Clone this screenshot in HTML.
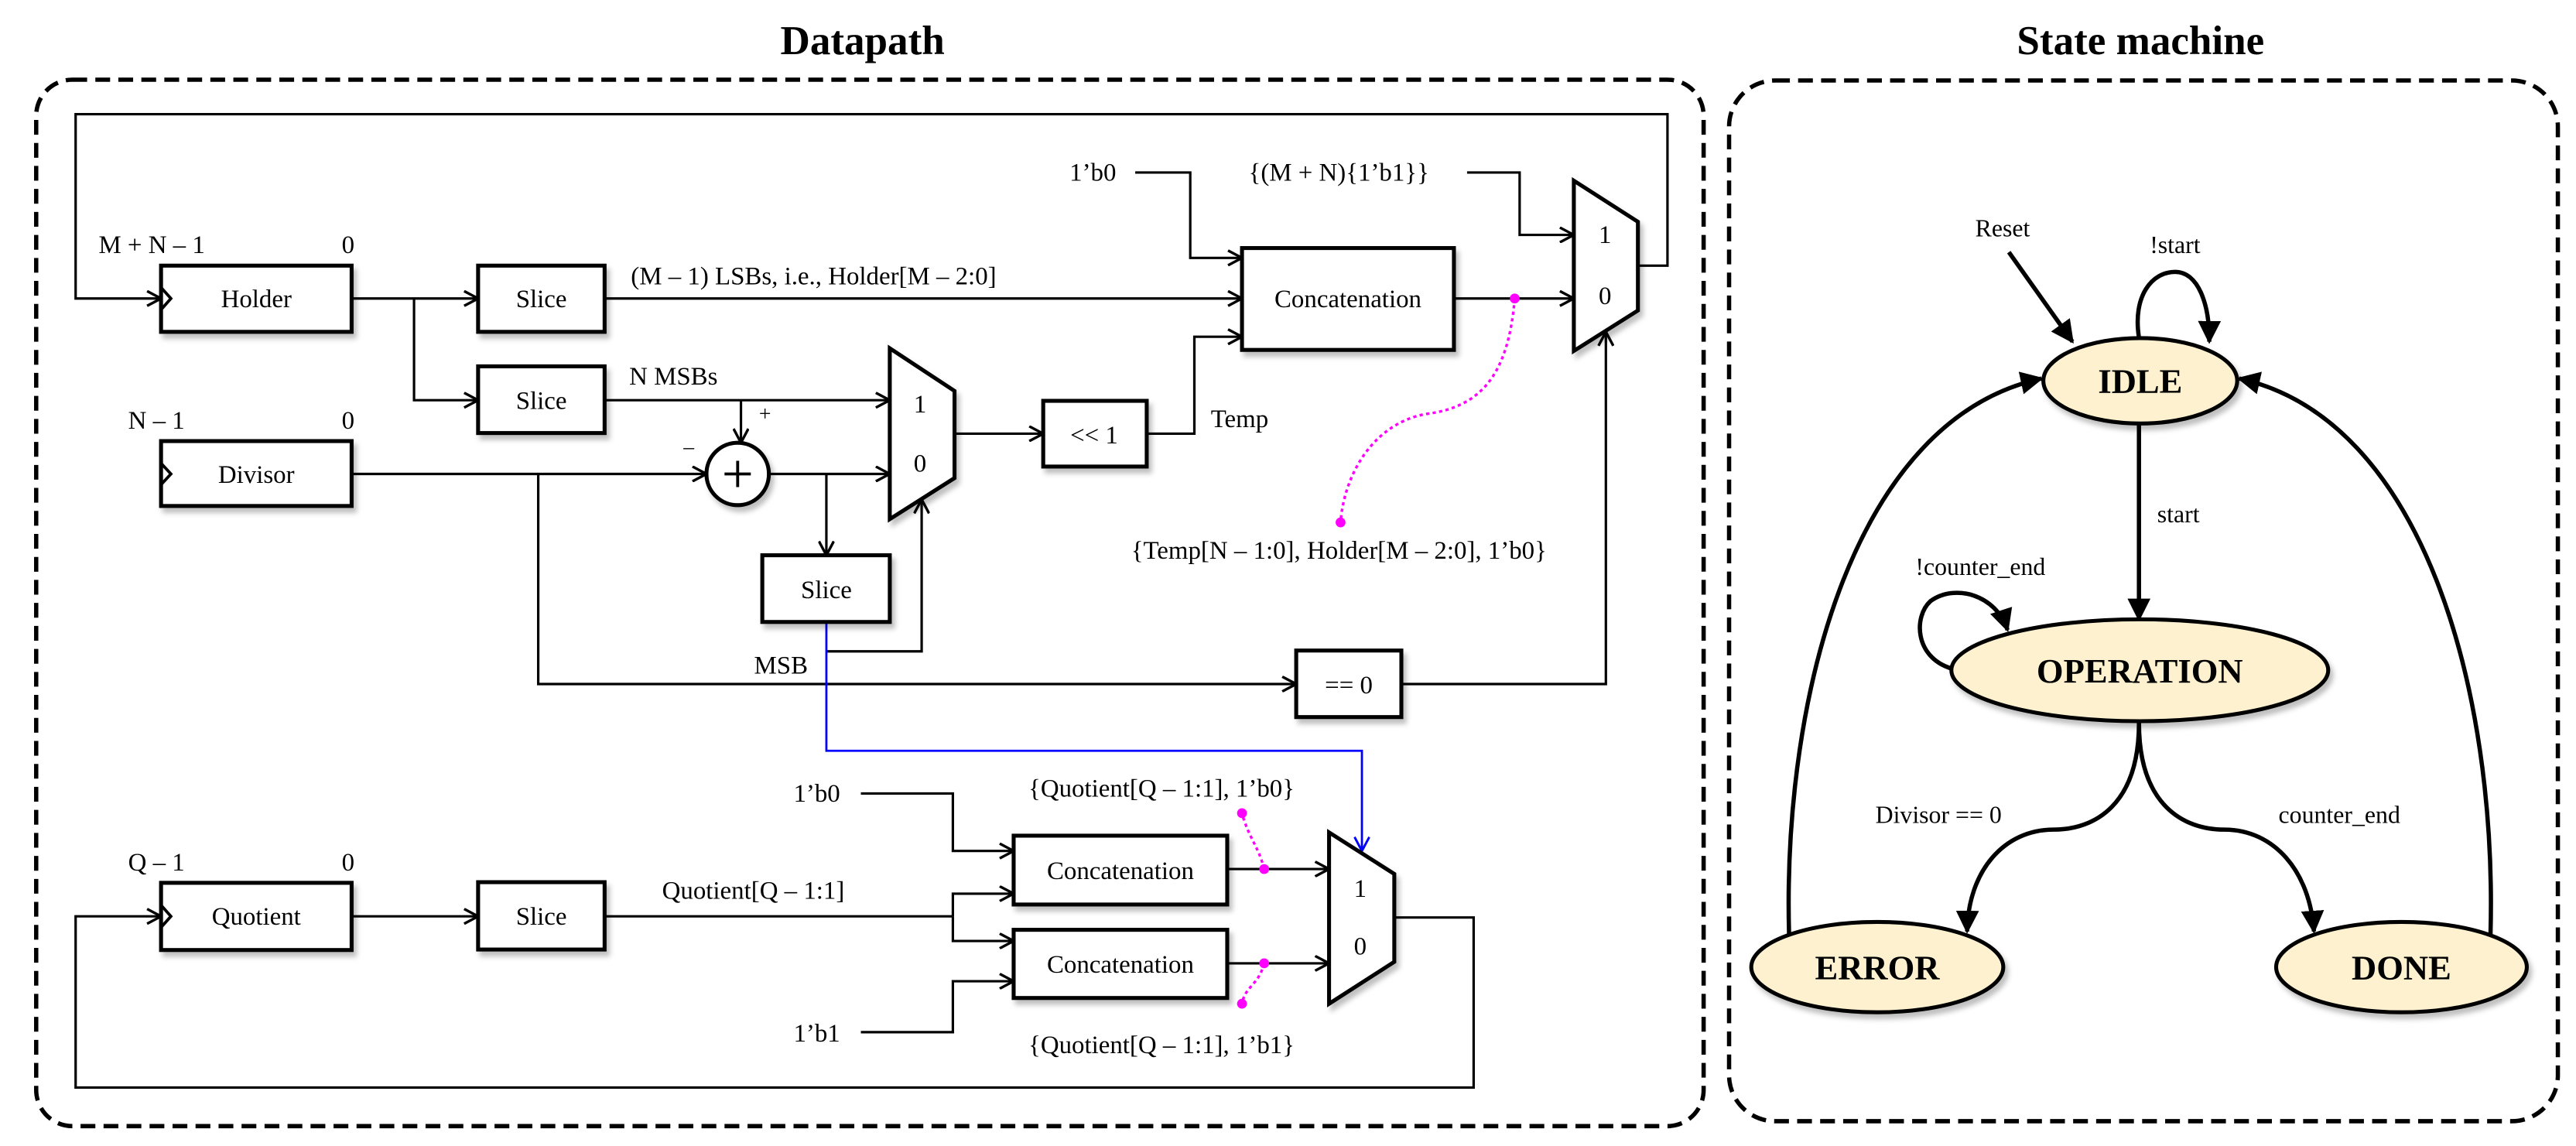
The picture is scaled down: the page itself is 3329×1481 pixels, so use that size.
<!DOCTYPE html>
<html><head><meta charset="utf-8">
<style>
html,body{margin:0;padding:0;background:#fff;}
svg{display:block;}
text{font-family:"Liberation Serif",serif;fill:#000;}
</style></head>
<body>
<svg width="3329" height="1481" viewBox="0 0 1568 697.6" xmlns="http://www.w3.org/2000/svg">
<defs>
<marker id="o" viewBox="0 0 10 10" refX="9.5" refY="5" markerWidth="10" markerHeight="10" markerUnits="userSpaceOnUse" orient="auto">
<path d="M1,0.5 L9.5,5 L1,9.5" fill="none" stroke="#000" stroke-width="1.6"/>
</marker>
<marker id="ob" viewBox="0 0 10 10" refX="9.5" refY="5" markerWidth="10" markerHeight="10" markerUnits="userSpaceOnUse" orient="auto">
<path d="M1,0.5 L9.5,5 L1,9.5" fill="none" stroke="#00f" stroke-width="1.4"/>
</marker>
<marker id="f" viewBox="0 0 10 10" refX="9" refY="5" markerWidth="14" markerHeight="14" markerUnits="userSpaceOnUse" orient="auto">
<path d="M0,0 L10,5 L0,10 Z" fill="#000"/>
</marker>
<filter id="sh" x="-10%" y="-10%" width="130%" height="140%">
<feDropShadow dx="2" dy="3" stdDeviation="1.5" flood-color="#000" flood-opacity="0.25"/>
</filter>
</defs>

<!-- titles -->
<text x="525" y="33" font-size="25" font-weight="bold" text-anchor="middle">Datapath</text>
<text x="1303" y="33" font-size="25" font-weight="bold" text-anchor="middle">State machine</text>

<!-- dashed frames -->
<rect x="22" y="48.5" width="1015" height="637" rx="22" fill="none" stroke="#000" stroke-width="2.6" stroke-dasharray="9,5"/>
<rect x="1052.5" y="49" width="504.5" height="633.5" rx="28" fill="none" stroke="#000" stroke-width="2.6" stroke-dasharray="9,5"/>

<g fill="none" stroke="#000" stroke-width="1.5">
<!-- top feedback -->
<polyline points="997,161.7 1015,161.7 1015,69.5 46,69.5 46,181.7 98,181.7" marker-end="url(#o)"/>
<!-- holder -> slice1 -->
<line x1="214" y1="181.7" x2="291" y2="181.7" marker-end="url(#o)"/>
<polyline points="252,181.7 252,243.6 291,243.6" marker-end="url(#o)"/>
<!-- slice1 -> concat -->
<line x1="368" y1="181.7" x2="756" y2="181.7" marker-end="url(#o)"/>
<!-- 1'b0 -> concat -->
<polyline points="691,105 724.5,105 724.5,157 756,157" marker-end="url(#o)"/>
<!-- {(M+N)} -> mux1 -->
<polyline points="893,105 925,105 925,143 958,143" marker-end="url(#o)"/>
<!-- concat -> mux1 -->
<line x1="885" y1="181.7" x2="958" y2="181.7" marker-end="url(#o)"/>
<!-- slice2 -> mux2 -->
<line x1="368" y1="243.6" x2="541.6" y2="243.6" marker-end="url(#o)"/>
<line x1="451" y1="243.6" x2="451" y2="269.5" marker-end="url(#o)"/>
<!-- divisor -> adder -->
<line x1="214" y1="288.5" x2="430" y2="288.5" marker-end="url(#o)"/>
<polyline points="327.6,288.5 327.6,416.4 789,416.4" marker-end="url(#o)"/>
<!-- adder -> mux2 -->
<line x1="468" y1="288.5" x2="541.6" y2="288.5" marker-end="url(#o)"/>
<line x1="503" y1="288.5" x2="503" y2="338" marker-end="url(#o)"/>
<!-- MSB -> mux2 sel -->
<polyline points="503,396.5 561,396.5 561,304" marker-end="url(#o)"/>
<!-- mux2 -> <<1 -->
<line x1="581" y1="264" x2="635" y2="264" marker-end="url(#o)"/>
<polyline points="698,264 727,264 727,205 756,205" marker-end="url(#o)"/>
<!-- ==0 -> mux1 sel -->
<polyline points="853,416.4 977.5,416.4 977.5,202" marker-end="url(#o)"/>

<!-- bottom section -->
<line x1="214" y1="557.8" x2="291" y2="557.8" marker-end="url(#o)"/>
<polyline points="368,557.8 580,557.8"/>
<polyline points="580,557.8 580,544 617,544" marker-end="url(#o)"/>
<polyline points="580,557.8 580,572.8 617,572.8" marker-end="url(#o)"/>
<polyline points="524,483 580,483 580,518 617,518" marker-end="url(#o)"/>
<polyline points="524,628.3 580,628.3 580,597.3 617,597.3" marker-end="url(#o)"/>
<line x1="747" y1="529" x2="809" y2="529" marker-end="url(#o)"/>
<line x1="747" y1="586.4" x2="809" y2="586.4" marker-end="url(#o)"/>
<polyline points="848.7,558.5 897,558.5 897,662 46,662 46,557.8 98,557.8" marker-end="url(#o)"/>
</g>
<!-- blue -->
<polyline points="503,378.6 503,457 829,457 829,518" fill="none" stroke="#00f" stroke-width="1.3" marker-end="url(#ob)"/>

<!-- boxes -->
<g fill="#fff" stroke="#000" stroke-width="2.4" filter="url(#sh)">
<rect x="98" y="161.7" width="116" height="40.3"/>
<rect x="291" y="161.7" width="77" height="40.3"/>
<rect x="291" y="223" width="77" height="40.6"/>
<rect x="756" y="151" width="129" height="62"/>
<rect x="98" y="268.5" width="116" height="39.5"/>
<rect x="464" y="338" width="77.6" height="40.6"/>
<rect x="635" y="244" width="63" height="40"/>
<rect x="789" y="396" width="64" height="40.5"/>
<rect x="98" y="537.4" width="116" height="40.9"/>
<rect x="291" y="537" width="77" height="41"/>
<rect x="617" y="508.7" width="130" height="41.9"/>
<rect x="617" y="566" width="130" height="41.5"/>
<polygon points="958,110 997,135 997,189 958,213.6"/>
<polygon points="541.6,212 581,238 581,291 541.6,316"/>
<polygon points="809,506.7 848.7,532 848.7,585.5 809,611"/>
<circle cx="449" cy="288.5" r="19"/>
</g>
<!-- clock marks -->
<g fill="none" stroke="#000" stroke-width="1.8">
<polyline points="98,175 104,181.7 98,188.5"/>
<polyline points="98,282 104,288.5 98,295"/>
<polyline points="98,551 104,557.8 98,564.5"/>
<line x1="441" y1="288.5" x2="457" y2="288.5"/>
<line x1="449" y1="280.5" x2="449" y2="296.5"/>
</g>

<!-- magenta annotations -->
<g fill="none" stroke="#f0f" stroke-width="1.6" stroke-dasharray="2,2">
<path d="M922,181.7 C918,230 900,248 868,252 C835,258 818,290 816,318"/>
<path d="M769.5,529 C766,515 760,510 756,495"/>
<path d="M769.5,586.4 C766,600 758,600 756,611"/>
</g>
<g fill="#f0f">
<circle cx="922" cy="181.7" r="3"/><circle cx="816" cy="318" r="3"/>
<circle cx="769.5" cy="529" r="3"/><circle cx="756" cy="495" r="3"/>
<circle cx="769.5" cy="586.4" r="3"/><circle cx="756" cy="611" r="3"/>
</g>

<!-- datapath text -->
<g font-size="15.5">
<text x="156" y="187" text-anchor="middle">Holder</text>
<text x="329.5" y="187" text-anchor="middle">Slice</text>
<text x="329.5" y="249" text-anchor="middle">Slice</text>
<text x="820.5" y="187" text-anchor="middle">Concatenation</text>
<text x="156" y="294" text-anchor="middle">Divisor</text>
<text x="503" y="364" text-anchor="middle">Slice</text>
<text x="666" y="270" text-anchor="middle">&lt;&lt; 1</text>
<text x="821" y="422" text-anchor="middle">== 0</text>
<text x="156" y="563" text-anchor="middle">Quotient</text>
<text x="329.5" y="563" text-anchor="middle">Slice</text>
<text x="682" y="535" text-anchor="middle">Concatenation</text>
<text x="682" y="592" text-anchor="middle">Concatenation</text>
<text x="977" y="148" text-anchor="middle">1</text>
<text x="977" y="185" text-anchor="middle">0</text>
<text x="560" y="251" text-anchor="middle">1</text>
<text x="560" y="287" text-anchor="middle">0</text>
<text x="828" y="546" text-anchor="middle">1</text>
<text x="828" y="581" text-anchor="middle">0</text>
<text x="60" y="154">M + N – 1</text>
<text x="208" y="154">0</text>
<text x="78" y="261">N – 1</text>
<text x="208" y="261">0</text>
<text x="78" y="530">Q – 1</text>
<text x="208" y="530">0</text>
<text x="384" y="173">(M – 1) LSBs, i.e., Holder[M – 2:0]</text>
<text x="383" y="234">N MSBs</text>
<text x="462" y="256" font-size="13">+</text>
<text x="416" y="276" font-size="13">–</text>
<text x="651" y="110">1’b0</text>
<text x="760" y="110">{(M + N){1’b1}}</text>
<text x="737" y="260">Temp</text>
<text x="815" y="340" text-anchor="middle">{Temp[N – 1:0], Holder[M – 2:0], 1’b0}</text>
<text x="459" y="410">MSB</text>
<text x="483" y="488">1’b0</text>
<text x="483" y="634">1’b1</text>
<text x="403" y="547">Quotient[Q – 1:1]</text>
<text x="707" y="485" text-anchor="middle">{Quotient[Q – 1:1], 1’b0}</text>
<text x="707" y="641" text-anchor="middle">{Quotient[Q – 1:1], 1’b1}</text>
</g>

<!-- state machine -->
<g fill="none" stroke="#000" stroke-width="2.6">
<line x1="1222.8" y1="153.5" x2="1261.5" y2="208" marker-end="url(#f)"/>
<path d="M1302,205.5 C1298,180 1310,165.5 1324,165.5 C1338,165.5 1345,185 1344.8,208" marker-end="url(#f)"/>
<line x1="1302" y1="258" x2="1302" y2="377" marker-end="url(#f)"/>
<path d="M1188,407 C1165,400 1165,375 1175,366 C1190,355 1215,362 1222,383.5" marker-end="url(#f)"/>
<path d="M1302,440 C1302,490 1275,505 1250,505 C1220,505 1198,530 1197.4,567" marker-end="url(#f)"/>
<path d="M1302,440 C1302,490 1329,505 1354,505 C1384,505 1406,530 1408.5,567" marker-end="url(#f)"/>
<path d="M1089,568.5 C1085,420 1130,255 1242.6,230.4" marker-end="url(#f)"/>
<path d="M1516,568.5 C1520,420 1475,255 1363,230.4" marker-end="url(#f)"/>
</g>
<g fill="#fdf1cf" stroke="#000" stroke-width="2.4" filter="url(#sh)">
<ellipse cx="1302.8" cy="231.8" rx="59" ry="26"/>
<ellipse cx="1302.5" cy="408" rx="114.7" ry="31"/>
<ellipse cx="1142.7" cy="588.7" rx="76.7" ry="27.5"/>
<ellipse cx="1461.8" cy="588.7" rx="76.3" ry="27.5"/>
</g>
<g font-size="21" font-weight="bold" text-anchor="middle">
<text x="1302.8" y="239">IDLE</text>
<text x="1302.5" y="415.5">OPERATION</text>
<text x="1142.7" y="596">ERROR</text>
<text x="1461.8" y="596">DONE</text>
</g>
<g font-size="15">
<text x="1219" y="144" text-anchor="middle">Reset</text>
<text x="1324" y="154" text-anchor="middle">!start</text>
<text x="1326" y="318" text-anchor="middle">start</text>
<text x="1205.5" y="350" text-anchor="middle">!counter_end</text>
<text x="1180" y="501" text-anchor="middle">Divisor == 0</text>
<text x="1424" y="501" text-anchor="middle">counter_end</text>
</g>
</svg>
</body></html>
